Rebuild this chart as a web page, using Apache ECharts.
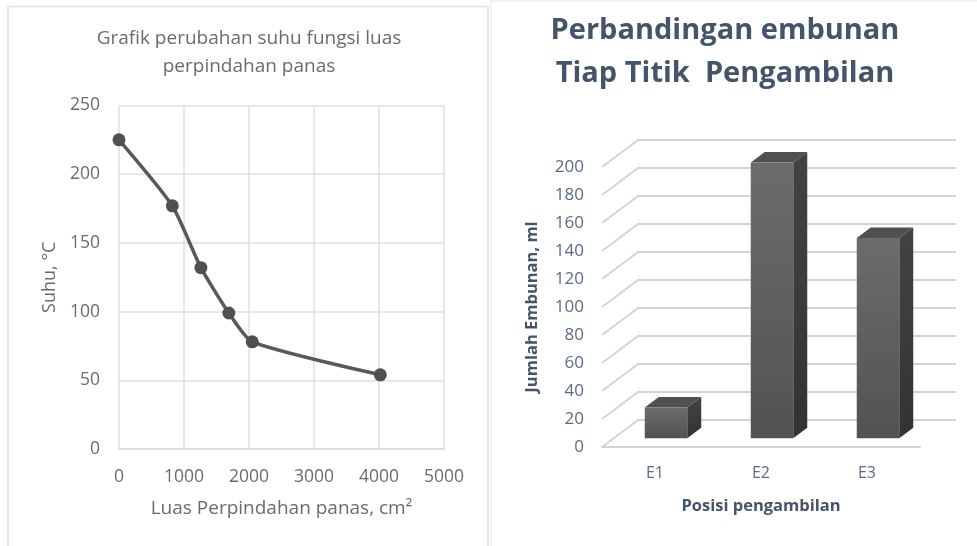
<!DOCTYPE html>
<html>
<head>
<meta charset="utf-8">
<style>
html, body { margin: 0; padding: 0; background: #fff; }
#main { width: 977px; height: 546px; }
</style>
<script src="https://cdn.jsdelivr.net/npm/echarts@6/dist/echarts.min.js"></script>
</head>
<body>
<div id="main"></div>
<script>
// left chart: suhu vs luas
var luas = [0, 820, 1260, 1690, 2050, 4020];
var suhu = [225, 177, 132, 99, 78, 54];

// right chart: embunan
var posisi = ['E1', 'E2', 'E3'];
var embunan = [22, 197, 143];
var tickEmbunan = [0, 20, 40, 60, 80, 100, 120, 140, 160, 180, 200];

var myChart = echarts.init(document.getElementById('main'));

var FONT = '"Open Sans", sans-serif';
var abu = '#6b6b6b';
var biru = '#44546a';
var biruMuda = '#5a6b84';

// offset of the back wall from the front plane
var DX = 36, DY = -27;

function renderWall(params, api) {
    var p = api.coord([0, api.value(0)]);
    p[0] = params.coordSys.x;
    var w = params.coordSys.width;
    return {
        type: 'group',
        children: [{
            type: 'polyline',
            shape: { points: [p, [p[0] + DX, p[1] + DY], [p[0] + DX + w, p[1] + DY]] },
            style: { fill: null, stroke: '#d2d3d6', lineWidth: 2 }
        }]
    };
}

function renderBar(params, api) {
    var x = api.coord([api.value(0), 0])[0];
    var top = api.coord([api.value(0), api.value(1)])[1];
    var base = api.coord([api.value(0), 0])[1];
    var w = 42.5, dx = 14, dy = -10.5;
    // bar sits a little behind the front plane
    var l = x - w / 2 + 11, r = l + w;
    var b = base - 8.7, t = top - 8.7;
    return {
        type: 'group',
        children: [{
            type: 'polygon',
            shape: { points: [[r, t], [r + dx, t + dy], [r + dx, b + dy], [r, b]] },
            style: {
                fill: new echarts.graphic.LinearGradient(0, 0, 0, 1, [
                    { offset: 0, color: '#434343' }, { offset: 1, color: '#333333' }
                ])
            }
        }, {
            type: 'polygon',
            shape: { points: [[l, t], [l + dx, t + dy], [r + dx, t + dy], [r, t]] },
            style: { fill: '#505050' }
        }, {
            type: 'rect',
            shape: { x: l, y: t, width: w, height: b - t },
            style: {
                fill: new echarts.graphic.LinearGradient(0, 0, 0, 1, [
                    { offset: 0, color: '#6c6c6c' }, { offset: 1, color: '#525252' }
                ])
            }
        }]
    };
}

function plainNumber(v) {
    return String(v);
}

var option = {
    backgroundColor: '#ffffff',
    animation: false,
    // panel borders
    graphic: [{
        type: 'polyline',
        shape: { points: [[8, 546], [8, 6.5], [488, 6.5], [488, 546]] },
        style: { fill: null, stroke: '#e6e6e6', lineWidth: 2 }
    }, {
        type: 'polyline',
        shape: { points: [[491, 546], [491, 1], [977, 1]] },
        style: { fill: null, stroke: '#e8eef3', lineWidth: 1.5 }
    }],
    title: [{
        text: 'Grafik perubahan suhu fungsi luas\nperpindahan panas',
        left: 244, top: 20, textAlign: 'center',
        textStyle: { fontFamily: FONT, fontSize: 19, fontWeight: 'normal', color: abu, lineHeight: 28 }
    }, {
        text: 'Perbandingan embunan\nTiap Titik  Pengambilan',
        left: 720, top: 4, textAlign: 'center',
        textStyle: { fontFamily: FONT, fontSize: 29, fontWeight: 'bold', color: biru, lineHeight: 43 }
    }],
    grid: [
        { left: 119, top: 105.5, width: 325, height: 343.5 },
        { left: 602, top: 167, width: 318, height: 280 }
    ],
    xAxis: [{
        gridIndex: 0, type: 'value', min: 0, max: 5000, interval: 1000,
        name: 'Luas Perpindahan panas, cm²', nameLocation: 'middle', nameGap: 50,
        nameTextStyle: { fontFamily: FONT, fontSize: 19, color: abu },
        axisLine: { show: true, lineStyle: { color: '#d9d9d9', width: 1.5 } },
        axisTick: { show: false },
        axisLabel: { fontFamily: FONT, fontSize: 17.5, color: abu, margin: 19, formatter: plainNumber },
        splitLine: { show: true, lineStyle: { color: '#dfdfdf', width: 1.5 } }
    }, {
        gridIndex: 1, type: 'category', data: posisi,
        name: 'Posisi pengambilan', nameLocation: 'middle', nameGap: 51,
        nameTextStyle: { fontFamily: FONT, fontSize: 16.5, fontWeight: 'bold', color: biru },
        axisLine: { show: true, lineStyle: { color: '#d2d3d6', width: 2 } },
        axisTick: { show: false },
        axisLabel: { fontFamily: FONT, fontSize: 16, color: biruMuda, margin: 18 }
    }],
    yAxis: [{
        gridIndex: 0, type: 'value', min: 0, max: 250, interval: 50,
        name: 'Suhu, °C', nameLocation: 'middle', nameGap: 60,
        nameTextStyle: { fontFamily: FONT, fontSize: 18, color: abu },
        axisLine: { show: false },
        axisTick: { show: false },
        axisLabel: { fontFamily: FONT, fontSize: 17.5, color: abu, margin: 19 },
        splitLine: { show: true, lineStyle: { color: '#dfdfdf', width: 1.5 } }
    }, {
        gridIndex: 1, type: 'value', min: 0, max: 200, interval: 20,
        name: 'Jumlah Embunan, ml', nameLocation: 'middle', nameGap: 61,
        nameTextStyle: { fontFamily: FONT, fontSize: 16.5, fontWeight: 'bold', color: biru },
        axisLine: { show: false },
        axisTick: { show: false },
        axisLabel: { fontFamily: FONT, fontSize: 17, color: biruMuda, margin: 18 },
        splitLine: { show: false }
    }],
    series: [{
        name: 'Suhu',
        type: 'line',
        xAxisIndex: 0,
        yAxisIndex: 0,
        smooth: 0.2,
        symbol: 'circle',
        symbolSize: 13,
        lineStyle: { color: '#595959', width: 3.5 },
        itemStyle: { color: '#505050' },
        data: luas.map(function(v, i) { return [v, suhu[i]]; })
    }, {
        name: 'Dinding',
        type: 'custom',
        xAxisIndex: 1,
        yAxisIndex: 1,
        z: 1,
        renderItem: renderWall,
        encode: { y: 0 },
        data: tickEmbunan.map(function(v) { return [v]; })
    }, {
        name: 'Embunan',
        type: 'custom',
        xAxisIndex: 1,
        yAxisIndex: 1,
        z: 3,
        renderItem: renderBar,
        encode: { x: 0, y: 1 },
        data: embunan.map(function(v, i) { return [i, v]; })
    }]
};

myChart.setOption(option);
</script>
</body>
</html>
